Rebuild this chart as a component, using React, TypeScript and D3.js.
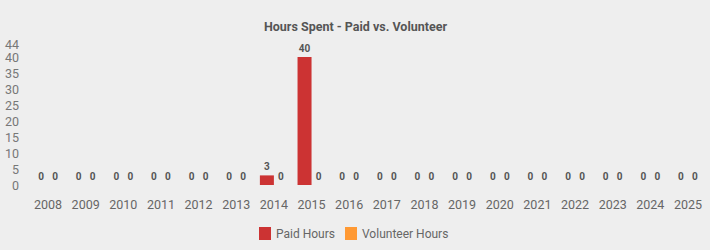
import React from "react";
import * as d3 from "d3";

const years = ["2008","2009","2010","2011","2012","2013","2014","2015","2016","2017","2018","2019","2020","2021","2022","2023","2024","2025"];
const paidHours = [0,0,0,0,0,0,3,40,0,0,0,0,0,0,0,0,0,0];
const volunteerHours = [0,0,0,0,0,0,0,0,0,0,0,0,0,0,0,0,0,0];
const yTicks = [0,5,10,15,20,25,30,35,40,44];
const seriesNames = ["Paid Hours","Volunteer Hours"];
const colors = ["#cc3333","#ff9933"];

export default function App() {
  const W = 710, H = 250;
  const x = d3.scaleBand().domain(years).range([29.2, 706.8]).paddingInner(0).paddingOuter(0);
  const y = d3.scaleLinear().domain([0, 44]).range([185, 44.2]);
  const barW = 14;
  const font = "Roboto, 'Liberation Sans', sans-serif";
  const series = [paidHours, volunteerHours];
  return (
    <svg width={W} height={H} style={{ position: "absolute", left: 0, top: 0, background: "#eeeeee", fontFamily: font }}>
      <rect x={0} y={0} width={W} height={H} fill="#eeeeee" />
      <text x={355.5} y={31} textAnchor="middle" fontSize={12.5} fontWeight="bold" fill="#555">Hours Spent - Paid vs. Volunteer</text>
      {yTicks.map(t => (
        <text key={t} x={19} y={y(t) + 4.5} textAnchor="end" fontSize={12.5} fill="#777">{t}</text>
      ))}
      {years.map(yr => (
        <text key={yr} x={x(yr)! + x.bandwidth() / 2} y={208.5} textAnchor="middle" fontSize={12.5} fill="#666">{yr}</text>
      ))}
      {series.map((vals, si) => years.map((yr, i) => {
        const cx = x(yr)! + x.bandwidth() / 2;
        const bx = cx - barW + si * barW;
        const v = vals[i];
        return (
          <g key={si + "-" + yr}>
            {v > 0 && <rect x={bx} y={y(v)} width={barW} height={y(0) - y(v)} fill={colors[si]} />}
            <text x={bx + barW / 2} y={y(v) - 5.5} textAnchor="middle" fontSize={10} fontWeight="bold" fill="#555">{v}</text>
          </g>
        );
      }))}
      {seriesNames.map((n, i) => {
        const lx = i === 0 ? 259 : 345;
        return (
          <g key={n}>
            <rect x={lx} y={227} width={12} height={13} fill={colors[i]} />
            <text x={lx + 17} y={238} fontSize={12} fill="#666">{n}</text>
          </g>
        );
      })}
    </svg>
  );
}
